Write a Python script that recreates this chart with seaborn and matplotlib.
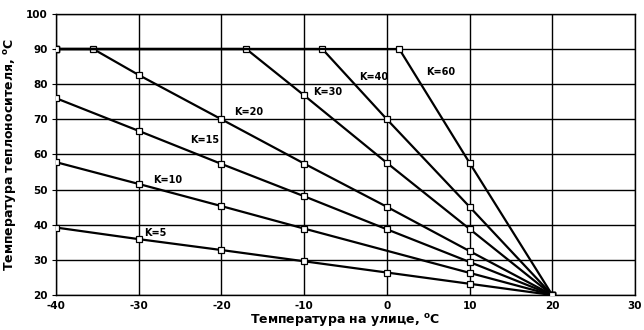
import matplotlib
matplotlib.use("Agg")
import matplotlib.pyplot as plt
import seaborn as sns

# outdoor temperature points and supply temperature for each K curve
k_names = ['K=5', 'K=10', 'K=15', 'K=20', 'K=30', 'K=40', 'K=60']

x_k5 = [-40, -30, -20, -10, 0, 10, 20]
y_k5 = [39.2, 35.9, 32.8, 29.6, 26.4, 23.2, 20]

x_k10 = [-40, -30, -20, -10, 0, 10, 20]
y_k10 = [57.8, 51.6, 45.3, 38.9, 32.6, 26.3, 20]

x_k15 = [-40, -30, -20, -10, 0, 10, 20]
y_k15 = [76.0, 66.7, 57.3, 48.1, 38.7, 29.4, 20]

x_k20 = [-40, -35.5, -30, -20, -10, 0, 10, 20]
y_k20 = [90, 90, 82.6, 70.0, 57.4, 45.1, 32.5, 20]

x_k30 = [-40, -17, -10, 0, 10, 20]
y_k30 = [90, 90, 76.8, 57.6, 38.8, 20]

x_k40 = [-40, -7.8, 0, 10, 20]
y_k40 = [90, 90, 70.0, 45.1, 20]

x_k60 = [-40, 1.5, 10, 20]
y_k60 = [90, 90, 57.6, 20]

series_x = [x_k5, x_k10, x_k15, x_k20, x_k30, x_k40, x_k60]
series_y = [y_k5, y_k10, y_k15, y_k20, y_k30, y_k40, y_k60]

# label anchor for each curve
label_x = [-29.4, -28.3, -23.8, -18.5, -8.9, -3.4, 4.7]
label_y = [37.6, 52.7, 64.1, 72.1, 77.8, 82.0, 83.5]

x_ticks = [-40, -30, -20, -10, 0, 10, 20, 30]
y_ticks = [20, 30, 40, 50, 60, 70, 80, 90, 100]


def main():
    sns.set_style("white")
    plt.rcParams['font.family'] = ['DejaVu Sans']
    plt.rcParams['axes.unicode_minus'] = False
    for key in ['text.color', 'axes.labelcolor', 'xtick.color', 'ytick.color']:
        plt.rcParams[key] = 'black'

    fig = plt.figure(figsize=(6.44, 3.30), dpi=100)
    ax = fig.add_axes([0.087, 0.106, 0.899, 0.852])

    for i, (xs, ys) in enumerate(zip(series_x, series_y)):
        marks = list(range(len(xs)))
        if k_names[i] == 'K=10':
            marks.remove(xs.index(0))  # no marker there in the original
        sns.lineplot(x=xs, y=ys, ax=ax, color='black', linewidth=1.6,
                     marker='s', markersize=5, markerfacecolor='white',
                     markeredgecolor='black', markeredgewidth=0.9,
                     markevery=marks, zorder=3)
        ax.text(label_x[i], label_y[i], k_names[i], fontsize=7, fontweight='bold',
                ha='left', va='center', zorder=4)

    ax.set_xlim(-40, 30)
    ax.set_ylim(20, 100)
    ax.set_xticks(x_ticks)
    ax.set_yticks(y_ticks)
    ax.grid(True, color='black', linewidth=1.0)
    for s in ax.spines.values():
        s.set_color('black')
        s.set_linewidth(1.0)
    ax.tick_params(axis='y', direction='out', length=3, width=0.8,
                   left=True, labelsize=7.5, pad=3)
    ax.tick_params(axis='x', length=0, labelsize=7.5, pad=4)
    for lbl in ax.get_xticklabels() + ax.get_yticklabels():
        lbl.set_fontweight('bold')

    ax.set_xlabel('Температура на улице, $^{\\mathbf{o}}$C', fontsize=9,
                  fontweight='bold', labelpad=1)
    ax.set_ylabel('Температура теплоносителя, $^{\\mathbf{o}}$C', fontsize=9,
                  fontweight='bold', labelpad=5)

    fig.savefig('out.png', dpi=100)


if __name__ == "__main__":
    main()
